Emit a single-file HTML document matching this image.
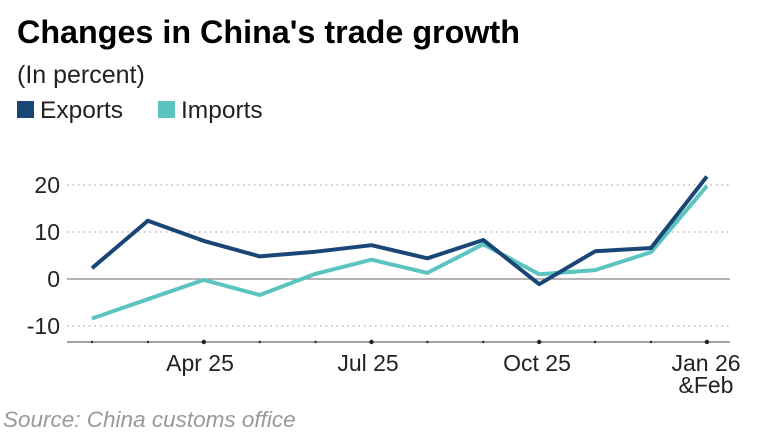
<!DOCTYPE html>
<html><head><meta charset="utf-8"><style>
body{margin:0;background:#fff;}
svg{display:block;font-family:"Liberation Sans",Arial,sans-serif;}
</style></head><body>
<svg width="769" height="434" viewBox="0 0 769 434">
<rect width="769" height="434" fill="#fff"/>
<text x="17" y="43" font-size="32.3" font-weight="bold" fill="#000">Changes in China's trade growth</text>
<text x="17" y="83" font-size="25" fill="#222">(In percent)</text>
<rect x="17" y="101" width="17" height="17" fill="#1a4676"/>
<text x="40" y="118" font-size="24.5" fill="#222">Exports</text>
<rect x="158" y="101" width="17" height="17" fill="#5bc4bf"/>
<text x="181" y="118" font-size="24.5" fill="#222">Imports</text>
<g stroke="#aaa" stroke-width="1.3" stroke-dasharray="1.5,4">
<line x1="67" y1="185" x2="730" y2="185"/>
<line x1="67" y1="232" x2="730" y2="232"/>
<line x1="67" y1="326" x2="730" y2="326"/>
</g>
<line x1="67" y1="279" x2="730" y2="279" stroke="#888" stroke-width="1.2"/>
<line x1="67" y1="342" x2="730" y2="342" stroke="#444" stroke-width="1"/>
<g font-size="23" fill="#222" text-anchor="end">
<text x="60" y="193">20</text><text x="60" y="240">10</text><text x="60" y="287">0</text><text x="60" y="334">-10</text>
</g>
<g fill="#222">
<circle cx="92" cy="342" r="1.2"/><circle cx="147.9" cy="342" r="1.2"/><circle cx="203.8" cy="342" r="2.2"/>
<circle cx="259.7" cy="342" r="1.2"/><circle cx="315.6" cy="342" r="1.2"/><circle cx="371.5" cy="342" r="2.2"/>
<circle cx="427.4" cy="342" r="1.2"/><circle cx="483.3" cy="342" r="1.2"/><circle cx="539.2" cy="342" r="2.2"/>
<circle cx="595.1" cy="342" r="1.2"/><circle cx="651" cy="342" r="1.2"/><circle cx="706.9" cy="342" r="2.2"/>
</g>
<g font-size="23" fill="#222" text-anchor="middle">
<text x="200" y="371">Apr 25</text><text x="368" y="371">Jul 25</text><text x="537" y="371">Oct 25</text>
<text x="706" y="371">Jan 26</text><text x="706" y="393">&amp;Feb</text>
</g>
<polyline fill="none" stroke="#5bc4bf" stroke-width="4" stroke-linejoin="round" points="92,318.5 147.9,299.2 203.8,279.9 259.7,295 315.6,273.8 371.5,259.7 427.4,272.9 483.3,244.2 539.2,274.3 595.1,270.1 651,252.2 706.9,185.9"/>
<polyline fill="none" stroke="#1a4676" stroke-width="4" stroke-linejoin="round" points="92,268.2 147.9,220.7 203.8,240.9 259.7,256.4 315.6,251.7 371.5,245.2 427.4,258.3 483.3,240 539.2,284.2 595.1,251.3 651,248 706.9,176.5"/>
<text x="3" y="427" font-size="22.5" font-style="italic" fill="#999">Source: China customs office</text>
</svg>
</body></html>
